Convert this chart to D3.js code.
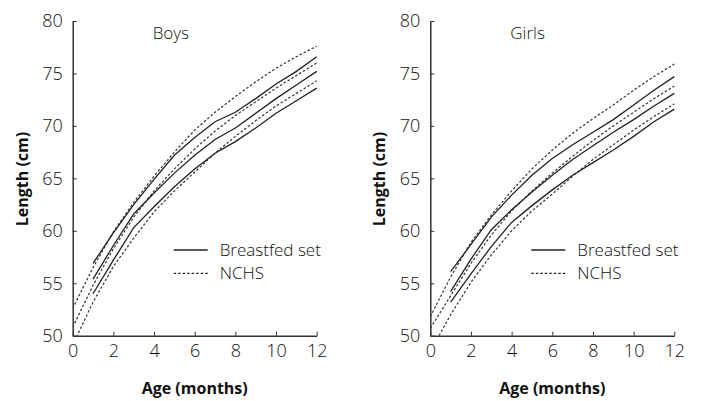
<!DOCTYPE html>
<html>
<head>
<meta charset="utf-8">
<script src="https://cdn.jsdelivr.net/npm/d3@7"></script>
<style>
  body { margin: 0; background: #fff; }
  svg { display: block; }
  .tick text { font-family: "Open Sans", sans-serif; font-weight: 300; font-size: 18px; fill: #111; }
  .domain, .tick line { stroke: #333; }
  .axlabel { font-family: "Open Sans", sans-serif; font-weight: 700; font-size: 16px; fill: #111; }
  .title, .legend text { font-family: "Open Sans", sans-serif; font-weight: 300; font-size: 17px; fill: #111; }
</style>
</head>
<body>
<svg id="chart" width="714" height="401"></svg>
<script>
// months
var nchsMonths = [0, 1, 2, 3, 4, 5, 6, 7, 8, 9, 10, 11, 12];
var bfMonths = [1, 2, 3, 4, 5, 6, 7, 8, 9, 10, 11, 12];

// boys, length in cm (upper, middle, lower lines)
var boysBfHigh = [56.9, 59.8, 62.5, 64.9, 67.2, 68.9, 70.4, 71.3, 72.6, 74.0, 75.2, 76.6];
var boysBfMid  = [55.4, 58.6, 61.6, 63.6, 65.5, 67.2, 68.7, 69.8, 71.2, 72.6, 73.9, 75.2];
var boysBfLow  = [54.0, 57.2, 60.3, 62.3, 64.2, 65.9, 67.4, 68.5, 69.8, 71.2, 72.4, 73.6];
var boysNchsHigh = [52.6, 56.5, 59.9, 62.7, 65.2, 67.5, 69.6, 71.3, 72.8, 74.2, 75.5, 76.6, 77.6];
var boysNchsMid  = [50.8, 54.8, 58.3, 61.3, 63.8, 65.9, 67.8, 69.5, 71.0, 72.3, 73.6, 74.8, 76.0];
var boysNchsLow  = [49.1, 53.2, 56.6, 59.3, 61.8, 63.8, 65.6, 67.4, 69.0, 70.5, 71.9, 73.1, 74.3];

// girls
var girlsBfHigh = [56.1, 58.7, 61.3, 63.4, 65.3, 66.9, 68.2, 69.4, 70.6, 72.0, 73.4, 74.7];
var girlsBfMid  = [54.2, 57.3, 60.1, 62.0, 63.7, 65.3, 66.8, 68.1, 69.4, 70.6, 71.9, 73.1];
var girlsBfLow  = [53.2, 55.9, 58.5, 60.8, 62.4, 63.9, 65.3, 66.5, 67.7, 69.0, 70.4, 71.6];
var girlsNchsHigh = [51.8, 55.6, 58.9, 61.5, 63.8, 65.9, 67.7, 69.3, 70.7, 72.0, 73.4, 74.7, 75.9];
var girlsNchsMid  = [50.7, 53.8, 56.9, 59.6, 61.9, 63.8, 65.5, 67.1, 68.6, 70.0, 71.3, 72.6, 73.8];
var girlsNchsLow  = [48.5, 52.0, 55.1, 57.7, 60.0, 61.9, 63.5, 65.2, 66.8, 68.2, 69.6, 70.9, 72.1];

var xTicks = [0, 2, 4, 6, 8, 10, 12];
var yTicks = [50, 55, 60, 65, 70, 75, 80];
var legendLabels = ["Breastfed set", "NCHS"];

var svg = d3.select("#chart");
var plotTop = 21, plotBottom = 335.7, plotW = 244;

function zip(xs, ys) {
  return xs.map(function(x, i) { return {m: x, v: ys[i]}; });
}

function panel(id, left, title, bf, nchs) {
  var x = d3.scaleLinear().domain([0, 12]).range([left, left + plotW]);
  var y = d3.scaleLinear().domain([50, 80]).range([plotBottom, plotTop]);

  svg.append("clipPath").attr("id", id)
    .append("rect").attr("x", left).attr("y", plotTop)
    .attr("width", plotW + 2).attr("height", plotBottom - plotTop);

  var line = d3.line().x(function(d) { return x(d.m); }).y(function(d) { return y(d.v); });
  var g = svg.append("g").attr("clip-path", "url(#" + id + ")");

  nchs.forEach(function(s) {
    g.append("path").datum(zip(nchsMonths, s))
      .attr("fill", "none").attr("stroke", "#333").attr("stroke-width", 1.2)
      .attr("stroke-dasharray", "2.5,2").attr("d", line);
  });
  bf.forEach(function(s) {
    g.append("path").datum(zip(bfMonths, s))
      .attr("fill", "none").attr("stroke", "#222").attr("stroke-width", 1.3)
      .attr("d", line);
  });

  // axes, ticks point inward
  svg.append("g").attr("transform", "translate(0," + plotBottom + ")")
    .call(d3.axisBottom(x).tickValues(xTicks).tickSizeInner(-4).tickSizeOuter(0).tickPadding(9))
    .call(function(a) { a.select(".domain").attr("stroke-width", 1.5); });
  svg.append("g").attr("transform", "translate(" + left + ",0)")
    .call(d3.axisLeft(y).tickValues(yTicks).tickSizeInner(-4).tickSizeOuter(0).tickPadding(10))
    .call(function(a) { a.select(".domain").attr("stroke-width", 1.5); });

  svg.append("text").attr("class", "axlabel")
    .attr("transform", "translate(" + (left - 45) + "," + 179 + ") rotate(-90)")
    .attr("text-anchor", "middle").text("Length (cm)");
  svg.append("text").attr("class", "axlabel")
    .attr("x", left + plotW / 2).attr("y", 394)
    .attr("text-anchor", "middle").text("Age (months)");

  svg.append("text").attr("class", "title")
    .attr("x", left + 80).attr("y", 39).text(title);

  // legend
  var lg = svg.append("g").attr("class", "legend");
  legendLabels.forEach(function(lab, i) {
    var ly = 250 + i * 23.3;
    lg.append("line").attr("x1", left + 101).attr("x2", left + 135)
      .attr("y1", ly).attr("y2", ly)
      .attr("stroke", "#222").attr("stroke-width", 1.3)
      .attr("stroke-dasharray", i === 1 ? "2.5,2" : null);
    lg.append("text").attr("x", left + 147).attr("y", ly + 6).text(lab);
  });
}

panel("clipBoys", 72.7, "Boys", [boysBfHigh, boysBfMid, boysBfLow], [boysNchsHigh, boysNchsMid, boysNchsLow]);
panel("clipGirls", 430.3, "Girls", [girlsBfHigh, girlsBfMid, girlsBfLow], [girlsNchsHigh, girlsNchsMid, girlsNchsLow]);
</script>
</body>
</html>
